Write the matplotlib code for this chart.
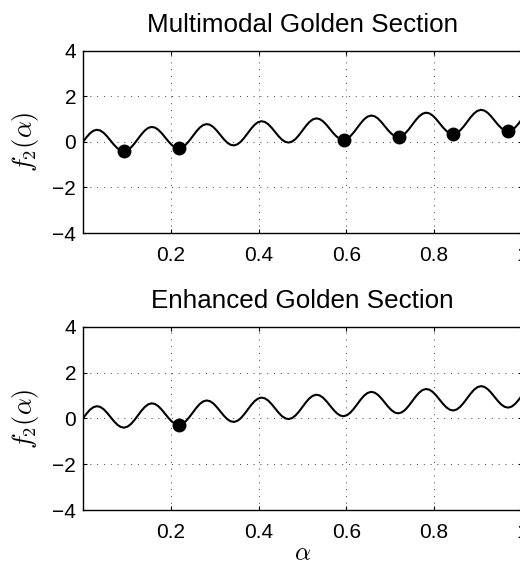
import numpy as np
import matplotlib
matplotlib.use('Agg')
import matplotlib.pyplot as plt

plt.rcParams['font.family'] = ['Liberation Sans', 'DejaVu Sans']
plt.rcParams['mathtext.fontset'] = 'cm'

# f2(alpha) sampled on [0, 1], 129 points
alpha = np.linspace(0, 1, 129)
f2 = [0.000, 0.199, 0.370, 0.485, 0.531, 0.501, 0.401, 0.246,
      0.063, -0.121, -0.276, -0.376, -0.406, -0.360, -0.245, -0.074,
      0.125, 0.324, 0.495, 0.610, 0.656, 0.626, 0.526, 0.371,
      0.188, 0.004, -0.151, -0.251, -0.281, -0.235, -0.120, 0.051,
      0.250, 0.449, 0.620, 0.735, 0.781, 0.751, 0.651, 0.496,
      0.313, 0.129, -0.026, -0.126, -0.156, -0.110, 0.005, 0.176,
      0.375, 0.574, 0.745, 0.860, 0.906, 0.876, 0.776, 0.621,
      0.438, 0.254, 0.099, -0.001, -0.031, 0.015, 0.130, 0.301,
      0.500, 0.699, 0.870, 0.985, 1.031, 1.001, 0.901, 0.746,
      0.563, 0.379, 0.224, 0.124, 0.094, 0.140, 0.255, 0.426,
      0.625, 0.824, 0.995, 1.110, 1.156, 1.126, 1.026, 0.871,
      0.688, 0.504, 0.349, 0.249, 0.219, 0.265, 0.380, 0.551,
      0.750, 0.949, 1.120, 1.235, 1.281, 1.251, 1.151, 0.996,
      0.813, 0.629, 0.474, 0.374, 0.344, 0.390, 0.505, 0.676,
      0.875, 1.074, 1.245, 1.360, 1.406, 1.376, 1.276, 1.121,
      0.938, 0.754, 0.599, 0.499, 0.469, 0.515, 0.630, 0.801,
      1.000]

# minima found by each method
multi_alpha = [0.094, 0.219, 0.594, 0.719, 0.844, 0.969]
multi_f = [-0.406, -0.281, 0.094, 0.219, 0.344, 0.469]
enh_alpha = [0.219]
enh_f = [-0.281]

titles = ['Multimodal Golden Section', 'Enhanced Golden Section']
xticks = [0.2, 0.4, 0.6, 0.8, 1.0]
xticklabels = ['0.2', '0.4', '0.6', '0.8', '1']
yticks = [-4, -2, 0, 2, 4]

fig = plt.figure(figsize=(5.2, 5.65), dpi=100)
ax1 = fig.add_axes([0.1596, 0.5876, 0.8442, 0.3226])
ax2 = fig.add_axes([0.1596, 0.0973, 0.8442, 0.3245])

for ax, title, (mx, my) in zip([ax1, ax2], titles,
                               [(multi_alpha, multi_f), (enh_alpha, enh_f)]):
    ax.plot(alpha, f2, color='k', lw=1.5, zorder=3)
    ax.plot(mx, my, 'o', color='k', ms=9, zorder=4)
    ax.set_xlim(0, 1)
    ax.set_ylim(-4, 4)
    ax.set_xticks(xticks)
    ax.set_xticklabels(xticklabels)
    ax.set_yticks(yticks)
    ax.tick_params(direction='in', length=3, width=0.8, top=True, right=True,
                   labelsize=15)
    ax.tick_params(axis='x', pad=9)
    ax.tick_params(axis='y', pad=5)
    ax.grid(True, color='0.25', linestyle=(0, (1, 6)), linewidth=0.7)
    for s in ax.spines.values():
        s.set_linewidth(1.0)
    ax.set_title(title, fontsize=18.7, pad=13.5)
    ax.set_ylabel(r'$f_2(\alpha)$', fontsize=19, labelpad=8)

ax2.set_xlabel(r'$\alpha$', fontsize=18, labelpad=0)

fig.savefig('out.png', dpi=100)
